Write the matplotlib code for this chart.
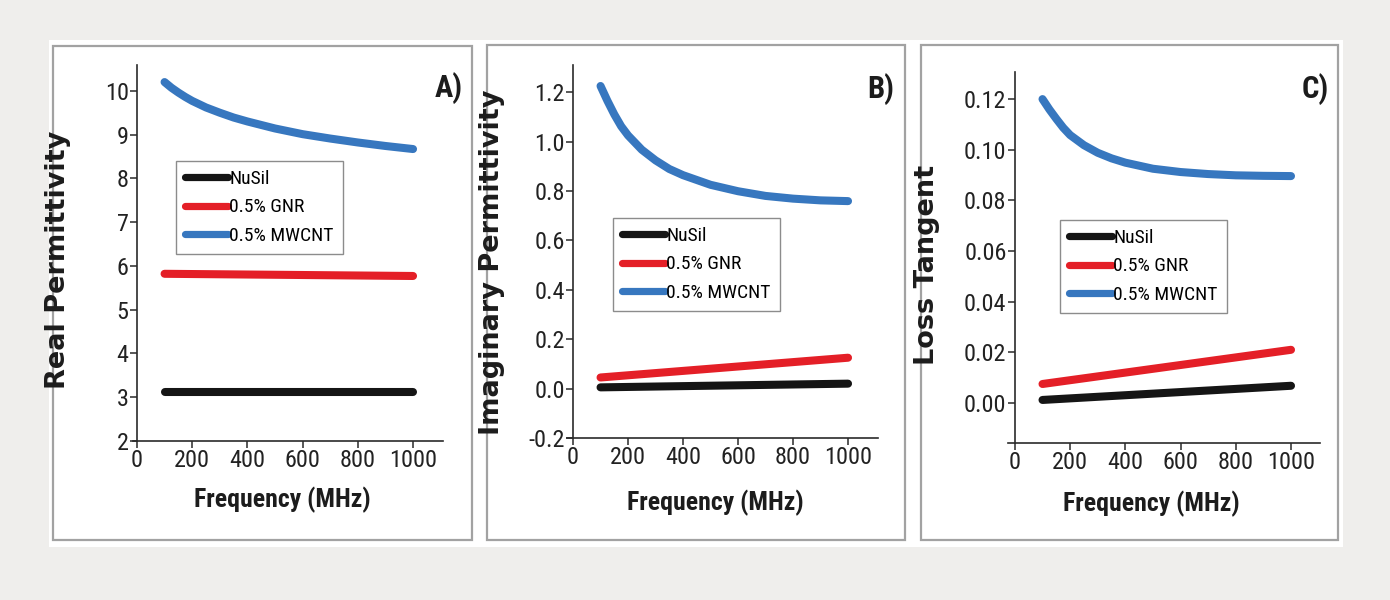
import numpy as np
import matplotlib
matplotlib.use('Agg')
import matplotlib.pyplot as plt
from matplotlib.patches import Rectangle
from matplotlib import font_manager

# 频率点 (MHz)
freq_curve = [100, 125, 150, 175, 200, 250, 300, 350, 400, 500, 600, 700, 800, 900, 1000]
freq_line = [100, 1000]

# A) 实部介电常数
real_nusil = [3.12, 3.12]
real_gnr = [5.82, 5.77]
real_mwcnt = [10.2, 10.07, 9.96, 9.86, 9.77, 9.62, 9.50, 9.39, 9.30, 9.14, 9.01,
              8.91, 8.82, 8.74, 8.67]

# B) 虚部介电常数
imag_nusil = [0.005, 0.02]
imag_gnr = [0.045, 0.125]
imag_mwcnt = [1.225, 1.165, 1.11, 1.062, 1.025, 0.967, 0.924, 0.889, 0.864, 0.825, 0.799,
              0.780, 0.769, 0.762, 0.759]

# C) 损耗角正切
tan_nusil = [0.0012, 0.0068]
tan_gnr = [0.0075, 0.021]
tan_mwcnt = [0.120, 0.1159, 0.1122, 0.1087, 0.1058, 0.1018, 0.0988, 0.0966, 0.0949, 0.0925,
             0.0912, 0.0904, 0.0899, 0.0897, 0.0896]

series_labels = ['NuSil', '0.5% GNR', '0.5% MWCNT']
colors = ['#151515', '#e41f27', '#3777bf']

W, H = 1390, 600

# 窄体字优先，没有就退回 Liberation Sans
installed = {f.name for f in font_manager.fontManager.ttflist}
narrow = 'Liberation Sans'
for cand in ['Liberation Sans Narrow', 'Roboto Condensed', 'Open Sans Condensed', 'Liberation Sans']:
    if cand in installed:
        narrow = cand
        break
plt.rcParams['font.family'] = [narrow, 'DejaVu Sans']


def px_rect(left, right, top, bottom):
    return [left / W, (H - bottom) / H, (right - left) / W, (bottom - top) / H]


fig = plt.figure(figsize=(W / 100, H / 100), dpi=100, facecolor='#efeeec')

# 白色底板与三个面板外框（放在坐标轴下面）
fig.patches.append(Rectangle((49 / W, (H - 547) / H), (1343 - 49) / W, (547 - 40) / H,
                             transform=fig.transFigure, facecolor='white', edgecolor='none', zorder=-3))
for (l, r, t, b) in [(53, 472, 46, 540), (487, 905, 45, 540), (921, 1338, 45, 540)]:
    fig.patches.append(Rectangle((l / W, (H - b) / H), (r - l) / W, (b - t) / H,
                                 transform=fig.transFigure, facecolor='white',
                                 edgecolor='#a2a2a2', linewidth=1.6, zorder=-2))

panels = [
    dict(rect=px_rect(133.1, 443.4, 65, 441), xlim=(-14, 1110), ylim=(2, 10.59),
         yticks=np.arange(2, 11, 1), fmt='{:.0f}', ylabel='Real Permittivity',
         data=[real_nusil, real_gnr, real_mwcnt], tag='A)', tag_xy=(463, 72),
         ylabel_xy=(71, 260), xlabel_xy=(282, 487), legend_xy=(176, 161)),
    dict(rect=px_rect(567, 878, 65, 438), xlim=(-22, 1109), ylim=(-0.2, 1.31),
         yticks=np.arange(-0.2, 1.21, 0.2), fmt='{:.1f}', ylabel='Imaginary Permittivity',
         data=[imag_nusil, imag_gnr, imag_mwcnt], tag='B)', tag_xy=(894, 73),
         ylabel_xy=(505, 262), xlabel_xy=(715, 490), legend_xy=(613, 218)),
    dict(rect=px_rect(1008, 1320, 72, 443), xlim=(-25, 1105), ylim=(-0.0158, 0.1307),
         yticks=np.arange(0, 0.121, 0.02), fmt='{:.2f}', ylabel='Loss Tangent',
         data=[tan_nusil, tan_gnr, tan_mwcnt], tag='C)', tag_xy=(1329, 73),
         ylabel_xy=(940, 265), xlabel_xy=(1151, 491), legend_xy=(1060, 220)),
]

for p in panels:
    ax = fig.add_axes(p['rect'])
    ax.set_facecolor('none')
    nusil, gnr, mwcnt = p['data']
    lines = []
    for xs, ys, c, lab in [(freq_line, nusil, colors[0], series_labels[0]),
                           (freq_line, gnr, colors[1], series_labels[1]),
                           (freq_curve, mwcnt, colors[2], series_labels[2])]:
        ln, = ax.plot(xs, ys, color=c, linewidth=5.8, solid_capstyle='round',
                      solid_joinstyle='round', label=lab)
        lines.append(ln)

    ax.set_xlim(*p['xlim'])
    ax.set_ylim(*p['ylim'])
    ax.spines['left'].set_position(('data', 0))
    ax.spines['top'].set_visible(False)
    ax.spines['right'].set_visible(False)
    for s in ('left', 'bottom'):
        ax.spines[s].set_linewidth(1.2)
        ax.spines[s].set_color('#2a2a2a')

    ax.set_xticks(range(0, 1001, 200))
    ax.set_yticks(p['yticks'])
    ax.set_yticklabels([p['fmt'].format(v + 0.0) for v in p['yticks']])
    ax.tick_params(direction='out', length=5, width=1.1, color='#2a2a2a',
                   labelsize=17.5, labelcolor='#222222', pad=1)

    ax.set_ylabel(p['ylabel'], family='DejaVu Sans', fontweight='bold', fontsize=19.5, color='#1c1c1c')
    ax.yaxis.set_label_coords(p['ylabel_xy'][0] / W, (H - p['ylabel_xy'][1]) / H,
                              transform=fig.transFigure)
    ax.set_xlabel('Frequency (MHz)', fontweight='bold', fontsize=18.5, color='#1c1c1c')
    ax.xaxis.set_label_coords(p['xlabel_xy'][0] / W, (H - p['xlabel_xy'][1]) / H,
                              transform=fig.transFigure)

    leg = ax.legend(handles=lines, loc='upper left',
                    bbox_to_anchor=(p['legend_xy'][0] / W, (H - p['legend_xy'][1]) / H),
                    bbox_transform=fig.transFigure, borderaxespad=0, fancybox=False,
                    framealpha=1, edgecolor='#8c8c8c', fontsize=14, handlelength=2.2,
                    handletextpad=0.1, labelspacing=0.55, borderpad=0.45)
    leg.get_frame().set_linewidth(1.0)
    for h in leg.get_lines():
        h.set_linewidth(5.2)

    fig.text(p['tag_xy'][0] / W, (H - p['tag_xy'][1]) / H, p['tag'], ha='right', va='top',
             fontsize=22, fontweight='bold', color='#1c1c1c')

fig.savefig('out.png', dpi=100, facecolor=fig.get_facecolor())
